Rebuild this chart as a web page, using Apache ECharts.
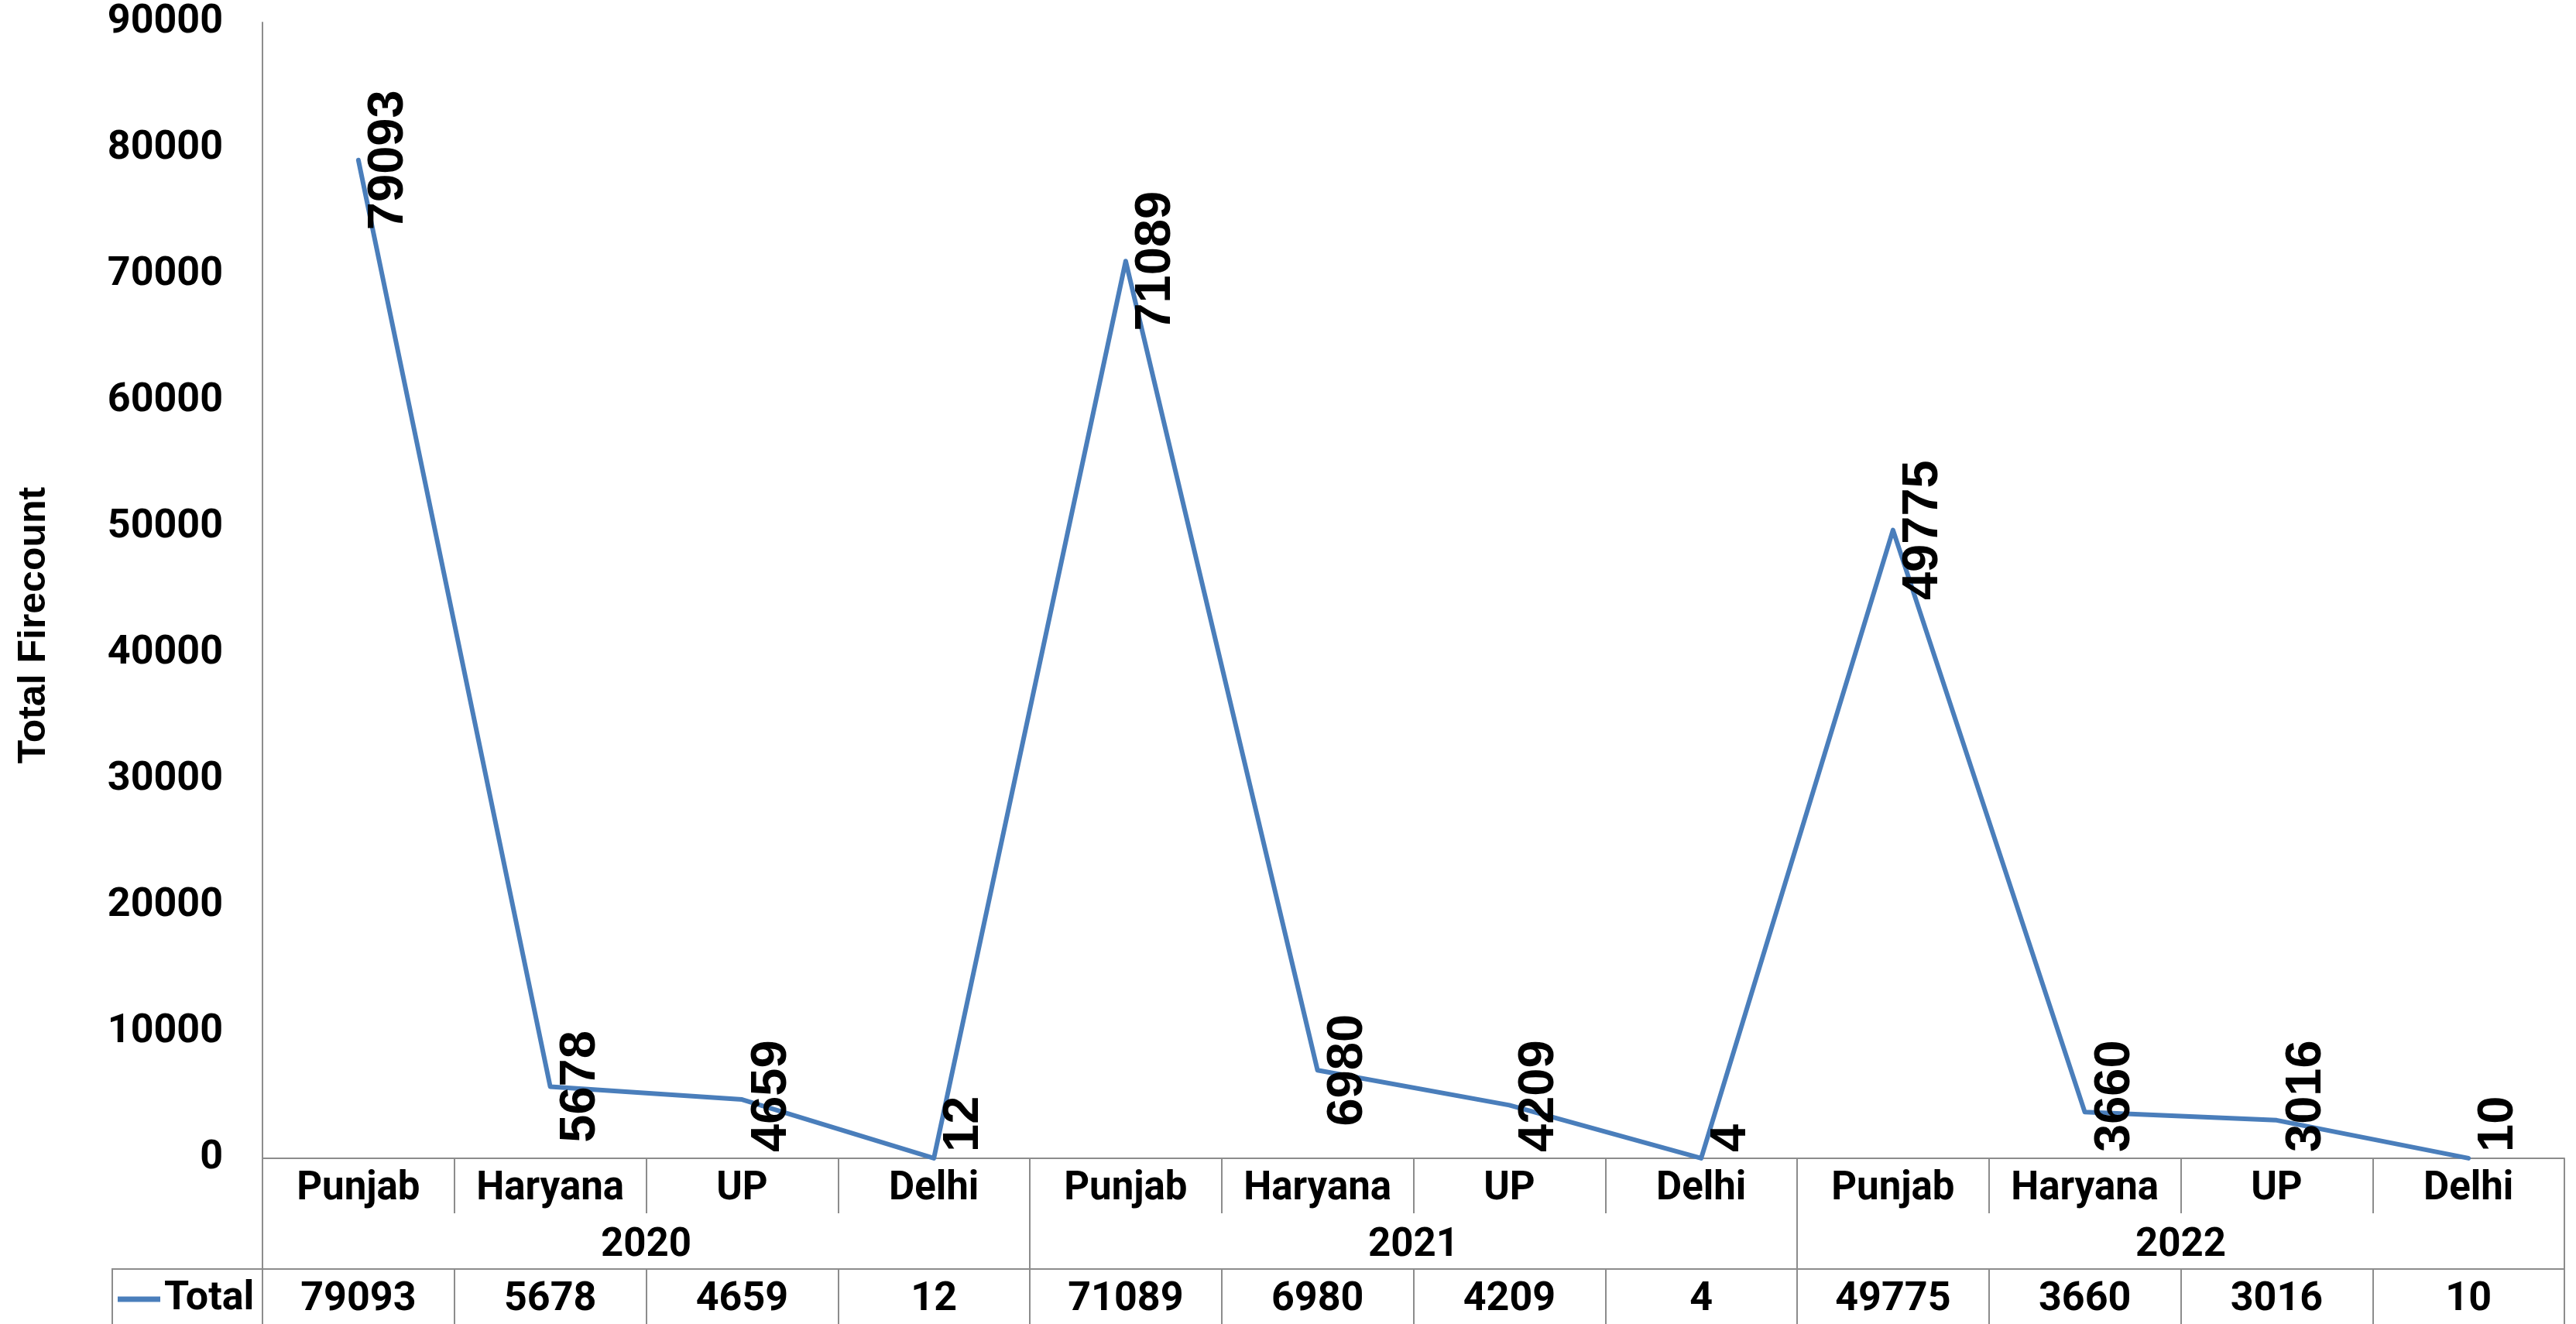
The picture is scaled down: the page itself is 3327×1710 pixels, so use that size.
<!DOCTYPE html>
<html>
<head>
<meta charset="utf-8">
<script src="https://cdn.jsdelivr.net/npm/echarts@6/dist/echarts.min.js"></script>
<style>
html,body{margin:0;padding:0;background:#fff;}
#chart{width:3327px;height:1710px;}
</style>
</head>
<body>
<div id="chart"></div>
<script>
const states = ['Punjab','Haryana','UP','Delhi','Punjab','Haryana','UP','Delhi','Punjab','Haryana','UP','Delhi'];
const years = ['2020','2021','2022'];
const totals = [79093, 5678, 4659, 12, 71089, 6980, 4209, 4, 49775, 3660, 3016, 10];
const seriesName = 'Total';
const yAxisTitle = 'Total Firecount';
const yMin = 0, yMax = 90000, yStep = 10000;

const LINE = '#4a7ebb';
const GRID_LINE = '#8c8c8c';
const AXIS_FONT = 'Roboto';
const LABEL_FONT = '"Liberation Sans", Arial, sans-serif';

const chart = echarts.init(document.getElementById('chart'), null, {renderer: 'canvas'});

function gridBottomPx() {
  return chart.convertToPixel({yAxisIndex: 0}, yMin);
}

const option = {
  animation: false,
  backgroundColor: '#ffffff',
  grid: {left: 339, right: 15, top: 29, bottom: 214, containLabel: false},
  legend: {
    left: 152, top: 1652, padding: 0,
    icon: 'rect', itemWidth: 55, itemHeight: 7,
    data: [seriesName],
    textStyle: {fontFamily: AXIS_FONT, fontWeight: 'bold', fontSize: 52, color: '#000'}
  },
  xAxis: [
    {
      type: 'category', data: states, position: 'bottom', offset: 0,
      boundaryGap: true,
      axisLine: {show: true, lineStyle: {color: GRID_LINE, width: 2}},
      axisTick: {show: true, interval: 0, length: 71, lineStyle: {color: GRID_LINE, width: 2}},
      axisLabel: {interval: 0, margin: 40, verticalAlign: 'middle', fontFamily: AXIS_FONT, fontWeight: 'bold', fontSize: 51, color: '#000'}
    },
    {
      type: 'category', data: years, position: 'bottom', offset: 71,
      boundaryGap: true,
      axisLine: {show: false},
      axisTick: {show: true, interval: 0, length: 72, lineStyle: {color: GRID_LINE, width: 2}},
      axisLabel: {interval: 0, margin: 42, verticalAlign: 'middle', fontFamily: AXIS_FONT, fontWeight: 'bold', fontSize: 51, color: '#000'}
    },
    {
      type: 'category', data: totals.map(String), position: 'bottom', offset: 143,
      boundaryGap: true,
      axisLine: {show: true, lineStyle: {color: GRID_LINE, width: 2}},
      axisTick: {show: true, interval: 0, length: 90, lineStyle: {color: GRID_LINE, width: 2}},
      axisLabel: {interval: 0, margin: 40, verticalAlign: 'middle', fontFamily: AXIS_FONT, fontWeight: 'bold', fontSize: 52, color: '#000'}
    }
  ],
  yAxis: {
    type: 'value', min: yMin, max: yMax, interval: yStep,
    name: yAxisTitle, nameLocation: 'middle', nameRotate: 90, nameGap: 295,
    nameTextStyle: {fontFamily: LABEL_FONT, fontWeight: 'bold', fontSize: 50, color: '#000', verticalAlign: 'middle', align: 'center', padding: [0, 90, 0, 0]},
    axisLine: {show: true, lineStyle: {color: GRID_LINE, width: 2}},
    axisTick: {show: false},
    splitLine: {show: false},
    axisLabel: {margin: 51, padding: [10, 0, 0, 0], fontFamily: AXIS_FONT, fontWeight: 'bold', fontSize: 52, color: '#000', formatter: function (v) { return String(v); }}
  },
  graphic: [
    {
      type: 'rect', silent: true, z: 10,
      shape: {x: 145, y: 1639, width: 194, height: 200},
      style: {fill: null, stroke: GRID_LINE, lineWidth: 2}
    }
  ],
  series: [
    {
      name: seriesName, type: 'line', data: totals,
      xAxisIndex: 0, yAxisIndex: 0,
      symbol: 'circle', symbolSize: 2, showSymbol: true, showAllSymbol: true,
      itemStyle: {color: LINE},
      lineStyle: {color: LINE, width: 6, cap: 'round', join: 'round'},
      label: {
        show: true, position: 'right', distance: 38, rotate: 90,
        align: 'center', verticalAlign: 'middle',
        fontFamily: LABEL_FONT, fontWeight: 'bold', fontSize: 65, color: '#000'
      },
      labelLayout: function (params) {
        const r = params.labelRect;
        const limit = gridBottomPx() - 8;
        if (r.y + r.height > limit) {
          return {y: limit - r.height / 2};
        }
        return {};
      }
    }
  ]
};

chart.setOption(option);
</script>
</body>
</html>
